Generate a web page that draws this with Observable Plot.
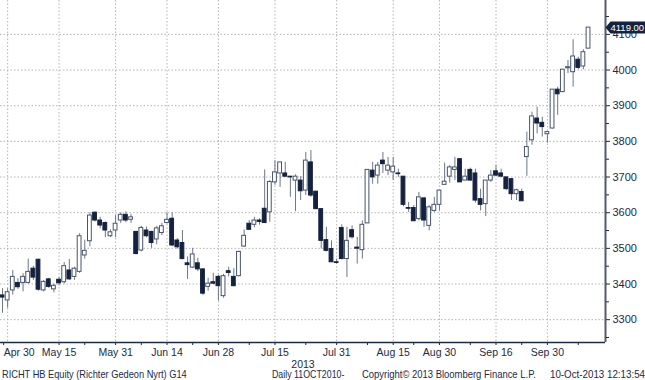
<!DOCTYPE html>
<html>
<head>
<meta charset="utf-8">
<script src="https://cdn.jsdelivr.net/npm/d3@7"></script>
<script src="https://cdn.jsdelivr.net/npm/@observablehq/plot@0.6"></script>
<style>
  html, body { margin: 0; padding: 0; background: #fff; }
  #wrap { position: relative; width: 645px; height: 380px; overflow: hidden; font-family: "Liberation Sans", Arial, sans-serif; color: #1b2a48; }
  #footer { position: absolute; top: 368px; left: 0; width: 645px; height: 12px; font-size: 10.5px; line-height: 12px; white-space: nowrap; }
  #footer span { position: absolute; top: 0; transform-origin: 0 0; }
</style>
</head>
<body>
<div id="wrap">
  <div id="chart"></div>
  <div id="footer">
    <span style="left:2px; transform: scaleX(0.88)">RICHT HB Equity (Richter Gedeon Nyrt) G14</span>
    <span style="left:272px; transform: scaleX(0.84)">Daily 11OCT2010-</span>
    <span style="left:362px; transform: scaleX(0.90)">Copyright© 2013 Bloomberg Finance L.P.</span>
    <span style="left:550px; transform: scaleX(0.93)">10-Oct-2013 12:13:54</span>
  </div>
</div>
<script>
// ---- Data (trading days, Hungarian calendar) ----
const dates = ["Apr 29","Apr 30","May 2","May 3","May 6","May 7","May 8","May 9","May 10","May 13",
"May 14","May 15","May 16","May 17","May 21","May 22","May 23","May 24","May 27","May 28",
"May 29","May 30","May 31","Jun 3","Jun 4","Jun 5","Jun 6","Jun 7","Jun 10","Jun 11",
"Jun 12","Jun 13","Jun 14","Jun 17","Jun 18","Jun 19","Jun 20","Jun 21","Jun 24","Jun 25",
"Jun 26","Jun 27","Jun 28","Jul 1","Jul 2","Jul 3","Jul 4","Jul 5","Jul 8","Jul 9",
"Jul 10","Jul 11","Jul 12","Jul 15","Jul 16","Jul 17","Jul 18","Jul 19","Jul 22","Jul 23",
"Jul 24","Jul 25","Jul 26","Jul 29","Jul 30","Jul 31","Aug 1","Aug 2","Aug 5","Aug 6",
"Aug 7","Aug 8","Aug 9","Aug 12","Aug 13","Aug 14","Aug 15","Aug 16","Aug 21","Aug 22",
"Aug 23","Aug 26","Aug 27","Aug 28","Aug 29","Aug 30","Sep 2","Sep 3","Sep 4","Sep 5",
"Sep 6","Sep 9","Sep 10","Sep 11","Sep 12","Sep 13","Sep 16","Sep 17","Sep 18","Sep 19",
"Sep 20","Sep 23","Sep 24","Sep 25","Sep 26","Sep 27","Sep 30","Oct 1","Oct 2","Oct 3",
"Oct 4","Oct 7","Oct 8","Oct 9","Oct 10"];

const open = [3368,3354,3382,3403,3403,3403,3443,3468,3382,3413,
3385,3412,3405,3438,3420,3434,3480,3520,3600,3578,
3571,3534,3550,3578,3594,3580,3546,3494,3550,3546,
3525,3543,3571,3583,3522,3515,3458,3446,3458,3441,
3392,3405,3420,3366,3436,3420,3422,3505,3569,3566,
3578,3611,3601,3685,3710,3710,3701,3690,3690,3662,
3741,3659,3610,3523,3498,3461,3557,3470,3551,3502,
3495,3570,3718,3704,3746,3718,3713,3710,3701,3613,
3613,3582,3640,3563,3605,3622,3678,3701,3720,3750,
3690,3720,3710,3638,3624,3690,3716,3710,3699,3694,
3652,3658,3756,3803,3864,3852,3820,3836,3945,3938,
4005,3994,4029,4010,4060];

const high = [3387,3387,3438,3415,3429,3470,3450,3470,3410,3416,
3400,3418,3460,3469,3447,3541,3523,3600,3602,3587,
3574,3552,3592,3599,3602,3595,3548,3562,3560,3548,
3562,3570,3600,3600,3527,3550,3476,3500,3472,3443,
3416,3430,3425,3427,3447,3443,3492,3552,3578,3587,
3583,3720,3690,3746,3741,3741,3701,3706,3701,3769,
3774,3659,3610,3559,3521,3470,3566,3559,3563,3531,
3577,3720,3741,3741,3769,3755,3755,3722,3701,3629,
3620,3657,3643,3620,3643,3662,3739,3732,3755,3750,
3722,3725,3722,3666,3690,3718,3732,3722,3699,3694,
3666,3666,3826,3882,3896,3868,3826,3945,3952,4001,
4027,4085,4036,4057,4119];

const low = [3318,3332,3369,3385,3378,3400,3410,3380,3378,3388,
3375,3395,3400,3410,3410,3430,3470,3505,3574,3555,
3530,3530,3530,3570,3572,3570,3482,3490,3530,3500,
3510,3536,3568,3505,3498,3468,3413,3443,3435,3368,
3380,3398,3352,3360,3420,3392,3420,3503,3550,3558,
3565,3570,3573,3677,3671,3699,3643,3603,3634,3648,
3643,3608,3498,3490,3460,3456,3468,3418,3526,3456,
3470,3570,3680,3680,3710,3704,3690,3699,3617,3601,
3576,3577,3559,3549,3601,3605,3678,3683,3690,3685,
3690,3690,3627,3605,3589,3685,3701,3699,3662,3634,
3634,3632,3702,3789,3821,3812,3795,3835,3873,3938,
3990,3952,4001,4001,4060];

const close = [3362,3377,3420,3391,3420,3434,3418,3384,3406,3392,
3395,3402,3450,3413,3443,3534,3493,3592,3578,3564,
3550,3545,3569,3594,3578,3587,3484,3557,3534,3515,
3556,3562,3580,3508,3503,3470,3453,3483,3441,3373,
3401,3401,3394,3422,3431,3394,3490,3535,3552,3578,
3574,3571,3686,3713,3741,3701,3699,3701,3660,3746,
3648,3610,3521,3493,3461,3459,3470,3521,3531,3499,
3566,3720,3699,3732,3736,3732,3729,3708,3622,3611,
3576,3643,3578,3615,3622,3662,3687,3727,3727,3685,
3701,3690,3634,3622,3690,3704,3704,3701,3666,3652,
3663,3632,3784,3870,3850,3840,3826,3945,3932,4001,
4008,4038,4006,4050,4119];

const xTickLabels = ["Apr 30","May 15","May 31","Jun 14","Jun 28","Jul 15","Jul 31","Aug 15","Aug 30","Sep 16","Sep 30"];
const xMinorLabels = ["May 23","Jun 7","Jun 21","Jul 8","Jul 23","Aug 8","Aug 23","Sep 9","Sep 23","Oct 8"];
const yTicks = [3300,3400,3500,3600,3700,3800,3900,4000,4100];
const yMinorTicks = [3250,3350,3450,3550,3650,3750,3850,3950,4050,4150];
const yearLabel = "2013";

// ---- Build table ----
const data = dates.map((d, i) => ({i, date: d, open: open[i], high: high[i], low: low[i], close: close[i]}));
const last = data[data.length - 1];
const majorIdx = xTickLabels.map(l => dates.indexOf(l));
const minorIdx = xMinorLabels.map(l => dates.indexOf(l));

const xDomain = [-0.39, 117.3];
const yDomain = [3236, 4195];
const navy = "#15223f";
const ink = "#1b2a48";
const half = 0.37;

const tagSymbol = {
  draw(ctx) {
    ctx.moveTo(0, 0);
    ctx.lineTo(5, -6);
    ctx.lineTo(48, -6);
    ctx.lineTo(48, 6);
    ctx.lineTo(5, 6);
    ctx.closePath();
  }
};

const noLabel = () => "";

const chart = Plot.plot({
  width: 645,
  height: 368,
  marginLeft: 0,
  marginRight: 40,
  marginTop: 0,
  marginBottom: 26,
  style: {fontFamily: "'Liberation Sans', Arial, sans-serif", fontSize: "10.5px", color: ink, background: "#fff"},
  x: {type: "linear", domain: xDomain},
  y: {type: "linear", domain: yDomain},
  marks: [
    Plot.gridY(yTicks, {stroke: "#b4b4b4", strokeOpacity: 1, strokeDasharray: "1.5,2"}),
    Plot.gridX(majorIdx, {stroke: "#b4b4b4", strokeOpacity: 1, strokeDasharray: "1.5,2"}),
    Plot.ruleX(data, {x: "i", y1: "low", y2: "high", stroke: "#6c7788", strokeWidth: 1}),
    Plot.rect(data, {
      x1: d => d.i - half, x2: d => d.i + half,
      y1: "open", y2: d => (Math.abs(d.close - d.open) < 1.5 ? d.open + (d.close >= d.open ? 1.5 : -1.5) : d.close),
      fill: d => d.close >= d.open ? "#ffffff" : navy,
      stroke: d => d.close >= d.open ? "#46556d" : navy,
      strokeWidth: 1
    }),
    Plot.ruleY([yDomain[0]], {stroke: ink, strokeWidth: 1.5}),
    Plot.ruleX([xDomain[1]], {stroke: "#555b66", strokeWidth: 2}),
    // first label kept inside the frame (left-aligned), like the reference
    Plot.axisX(majorIdx.slice(0, 1), {
      anchor: "bottom", tickSize: 3, tickPadding: 3, stroke: ink,
      tickFormat: i => dates[i], fontSize: 10.5, textAnchor: "start", dx: -4,
      label: null
    }),
    Plot.axisX(majorIdx.slice(1), {
      anchor: "bottom", tickSize: 3, tickPadding: 3, stroke: ink,
      tickFormat: i => dates[i], fontSize: 10.5,
      label: yearLabel, labelAnchor: "center", labelArrow: "none", labelOffset: 25
    }),
    Plot.axisX(minorIdx, {anchor: "bottom", tickSize: 3, stroke: ink, tickFormat: noLabel, label: null}),
    Plot.axisY(yTicks, {anchor: "right", tickSize: 4, tickPadding: 3, stroke: ink, tickFormat: d => String(d), label: null, fontSize: 11}),
    Plot.axisY(yMinorTicks, {anchor: "right", tickSize: 3, stroke: ink, tickFormat: noLabel, label: null}),
    Plot.dot([last], {x: () => xDomain[1], y: "close", symbol: tagSymbol, r: 5, fill: navy, stroke: null}),
    Plot.text([last], {x: () => xDomain[1], y: "close", text: d => d.close.toFixed(2), dx: 5, textAnchor: "start", fill: "#fff", fontSize: 9.5})
  ]
});
document.getElementById("chart").appendChild(chart);
</script>
</body>
</html>
